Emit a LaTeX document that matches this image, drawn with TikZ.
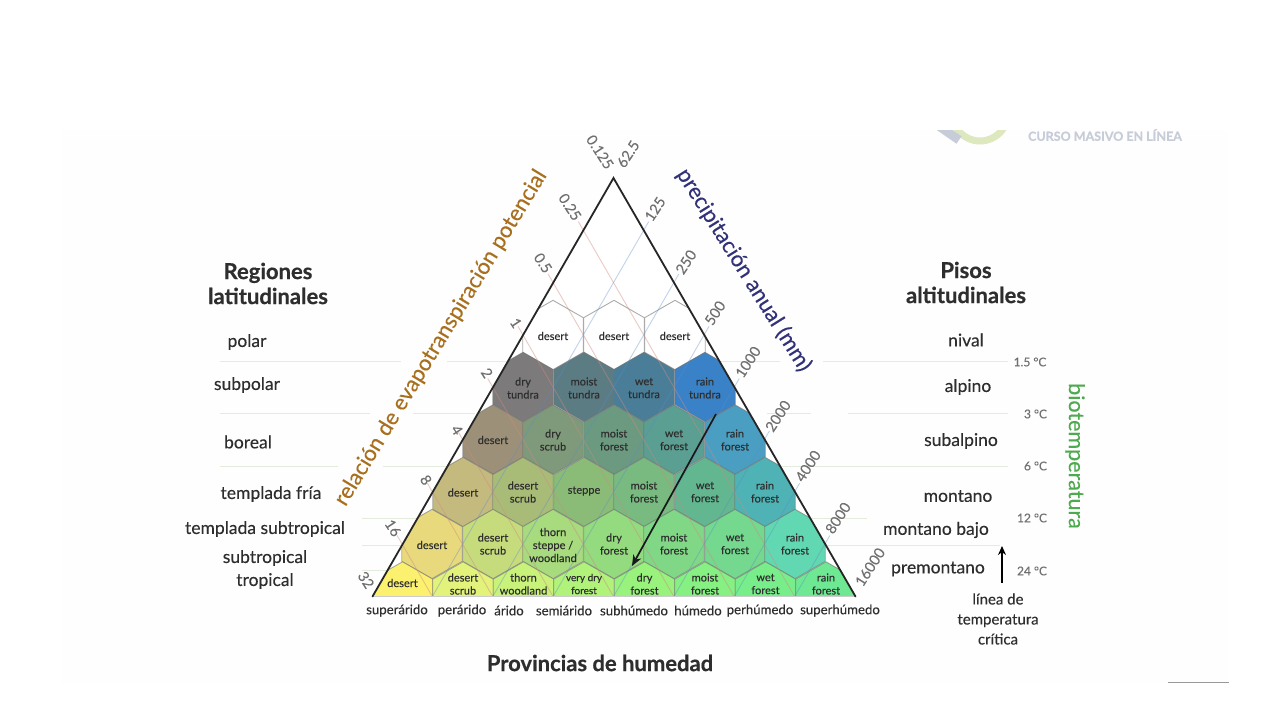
\documentclass[tikz,border=0pt]{standalone}
\usepackage{fontspec}
\setmainfont{Lato}[FakeBold=0.2,BoldFeatures={FakeBold=0.5}]
\usetikzlibrary{arrows.meta}
\definecolor{guide}{HTML}{E4ECDE}
\definecolor{ink}{HTML}{2E2E2E}
\definecolor{tickc}{HTML}{707070}
\definecolor{pinkl}{HTML}{D08A80}
\definecolor{bluel}{HTML}{5A8CC8}
\tikzset{
  x=1pt,y=-1pt,
  hexline/.style={draw=black!55,draw opacity=.6,line width=.9pt},
  guideline/.style={draw=guide,line width=1pt},
  celltext/.style={text=ink,align=center,font=\fontsize{11}{13}\selectfont,inner sep=0pt},
  region/.style={text=ink,align=center,font=\fontsize{17.5}{23}\selectfont,inner sep=0pt},
  headline/.style={text=ink,align=center,font=\bfseries\fontsize{22}{25}\selectfont,inner sep=0pt},
  provtext/.style={text=ink,font=\fontsize{13.2}{14}\selectfont,inner sep=0pt},
  ticktext/.style={text=tickc,font=\fontsize{14.5}{16}\selectfont,inner sep=0pt},
  tempt/.style={text=tickc,font=\fontsize{12}{13}\selectfont,inner sep=0pt},
  axistitle/.style={font=\fontsize{22}{24}\selectfont,inner sep=0pt},
  edgeline/.style={draw=black!85,line width=1.8pt,line cap=round},
}
\begin{document}
\begin{tikzpicture}
\useasboundingbox (0,0) rectangle (1280,720);
\fill[white] (0,0) rectangle (1280,720);
\fill[fill={rgb,255:red,254;green,254;blue,254}] (62,130) rectangle (1228,683);
\draw[draw=black!40,line width=1pt] (1168,682.8) -- (1229,682.8);
% logo remnant
\begin{scope}
\clip (900,130) rectangle (1060,160);
\draw[draw={rgb,255:red,222;green,232;blue,190},line width=7pt] (980,113) circle[radius=28];
\draw[draw={rgb,255:red,198;green,204;blue,216},line width=9pt] (936,124) -- (959,140);
\end{scope}
\node[text={rgb,255:red,198;green,204;blue,216},font=\bfseries\fontsize{12.5}{13}\selectfont,inner sep=0pt] (logo) at (1105,135) {CURSO MASIVO EN LÍNEA};

% latitudinal guides
\foreach \xa/\xb/\yy in {220/401/361,447/780/361,823/1008/361,220/370/413,413/475/413,767/811/413,848/1008/413,220/338/466,383/1008/466,362/867/518,362/1000/545,362/840/570}
  \draw[guideline] (\xa,\yy) -- (\xb,\yy);

\coordinate (apex) at (613.5,178);
\coordinate (bl) at (372.5,596.5);
\coordinate (br) at (855.5,596.5);

% cells
\begin{scope}
\clip (apex) -- (br) -- (bl) -- cycle;
\fill[white] (apex) -- (br) -- (bl) -- cycle;
\foreach \cx/\cy/\cc in {
 553/335/FFFFFF,614/335/FFFFFF,675/335/FFFFFF,
 523/387/7C7A7A,584/387/5C7C84,644/387/4A7E98,705/387/3A82C8,
 493/439.5/9C9178,553/439.5/7F9A7A,614/439.5/6B9A80,674/439.5/5B9E92,735/439.5/4A9EC2,
 463/492/C4BA7E,523/492/A8BC78,584/492/8ABC78,644/492/78BA80,705/492/62B690,765/492/4FB2B4,
 432/544/E8DA7C,493/544/C6DC7C,553/544/A8DA7E,614/544/94DA7E,674/544/80D886,735/544/74D88E,795/544/62D8B2,
 402.5/596.5/FBF16E,463/596.5/E2F27A,523.5/596.5/C8F27A,584/596.5/B0F27A,644.5/596.5/98F27C,705/596.5/86F082,765.5/596.5/78EE8A,826/596.5/6EE892}{
  \definecolor{hc}{HTML}{\cc}
  \path[hexline,fill=hc] (\cx,\cy-34.7) -- (\cx+30.25,\cy-17.35) -- (\cx+30.25,\cy+17.35) -- (\cx,\cy+34.7) -- (\cx-30.25,\cy+17.35) -- (\cx-30.25,\cy-17.35) -- cycle;
}
\end{scope}

% grid lines with ticks
\foreach \k in {1,...,7}{
  \pgfmathsetmacro{\lx}{613.5-30.19*\k}
  \pgfmathsetmacro{\rx}{613.5+30.19*\k}
  \pgfmathsetmacro{\yy}{178+52.31*\k}
  \pgfmathsetmacro{\bx}{\lx+30.19*(8-\k)}
  \pgfmathsetmacro{\cxx}{\rx-30.19*(8-\k)}
  \draw[draw=pinkl,draw opacity=.45,line width=.9pt] (\lx-5,\yy-8.7) -- (\bx,596.5);
  \draw[draw=bluel,draw opacity=.38,line width=.9pt] (\rx+5,\yy-8.7) -- (\cxx,596.5);
}
\draw[draw=black!20,line width=1pt] (bl) -- (br);
\draw[edgeline] (bl) -- (apex) -- (br);

% cell labels
\foreach \cx/\cy/\ct [count=\n] in {
 553/336/desert,614/336/desert,675/336/desert,
 523/388/{dry\\tundra},584/388/{moist\\tundra},644/388/{wet\\tundra},705/388/{rain\\tundra},
 493/440/desert,553/440/{dry\\scrub},614/440/{moist\\forest},674/440/{wet\\forest},735/440/{rain\\forest},
 463/492.5/desert,523/492/{desert\\scrub},584/491/steppe,644/492/{moist\\forest},705/492/{wet\\forest},765/492/{rain\\forest},
 432/545/desert,493/544/{desert\\scrub},553/545/{thorn\\steppe /\\woodland},614/544/{dry\\forest},674/544/{moist\\forest},735/544/{wet\\forest},795/544/{rain\\forest},
 402.5/583/desert,463/584/{desert\\scrub},523.5/584/{thorn\\woodland},644.5/584/{dry\\forest},705/584/{moist\\forest},765.5/584/{wet\\forest},826/584/{rain\\forest}}
  \node[celltext] (cell\n) at (\cx,\cy) {\ct};
\node[celltext,font=\fontsize{10}{13}\selectfont] (cellvd) at (584,584) {very dry\\forest};

% tick labels
\foreach \lx/\ly/\lt [count=\n] in {600/152/0.125,570/207/0.25,543/263/0.5,516/323/1,487/373/2,457/430/4,426/480/8,393/528/16,366/580/32}
  \node[ticktext,rotate=-57] (lt\n) at (\lx,\ly) {\lt};
\foreach \lx/\ly/\lt [count=\n] in {628/154/62.5,655/209/125,686/262/250,715/313/500,748/362/1000,778/416/2000,808/466/4000,838/518/8000,870/567/16000}
  \node[ticktext,rotate=57] (rt\n) at (\lx,\ly) {\lt};

% axis titles
\node[axistitle,text={rgb,255:red,168;green,112;blue,30},rotate=58.7] (etp) at (441,338) {relación de evapotranspiración potencial};
\node[axistitle,text={rgb,255:red,50;green,50;blue,120},rotate=-58] (pre) at (744,270) {precipitación anual (mm)};
\node[axistitle,text={rgb,255:red,78;green,170;blue,78},rotate=-90,font=\fontsize{21.5}{22}\selectfont] (bio) at (1075,456) {biotemperatura};

% headings
\node[headline] (reg) at (268,283.5) {Regiones\\latitudinales};
\node[headline] (pis) at (966,282.5) {Pisos\\altitudinales};
\node[headline] (prov) at (600,663) {Provincias de humedad};

% region labels
\foreach \px/\py/\pt [count=\n] in {247/342/polar,247/385/subpolar,248/442/boreal,271/494/templada fría,265/529/templada subtropical,265/569.5/{subtropical\\tropical}}
  \node[region] (lat\n) at (\px,\py) {\pt};
\foreach \px/\py/\pt [count=\n] in {966/340/nival,968/387/alpino,961/441/subalpino,958/496/montano,936/530/montano bajo,938/569/premontano}
  \node[region] (alt\n) at (\px,\py) {\pt};

% temperatures
\foreach \px/\py/\pt [count=\n] in {1030/362/1.5 °C,1035.5/414/3 °C,1035.5/466/6 °C,1032/518/12 °C,1032/571/24 °C}
  \node[tempt] (temp\n) at (\px,\py) {\pt};

% humidity provinces
\foreach \px/\pt [count=\n] in {397/superárido,462/perárido,509/árido,564/semiárido,634/subhúmedo,698/húmedo,760/perhúmedo,840/superhúmedo}
  \node[provtext] (hum\n) at (\px,610.5) {\pt};

% critical temperature
\node[text=ink,align=center,font=\fontsize{15}{20}\selectfont,inner sep=0pt] (crit) at (998,619) {línea de\\temperatura\\crítica};
\coordinate (critup) at (1002,546);
\coordinate (critlow) at (1002,583);
\draw[-{Stealth[length=9pt,width=8pt]},draw=black,line width=1.3pt] (critlow) -- (critup);
\coordinate (trendstart) at (716,414);
\coordinate (trendend) at (632,566);
\draw[-{Stealth[length=11pt,width=9pt]},draw=black!90,line width=1.7pt] (trendstart) -- (trendend);
\end{tikzpicture}
\end{document}
